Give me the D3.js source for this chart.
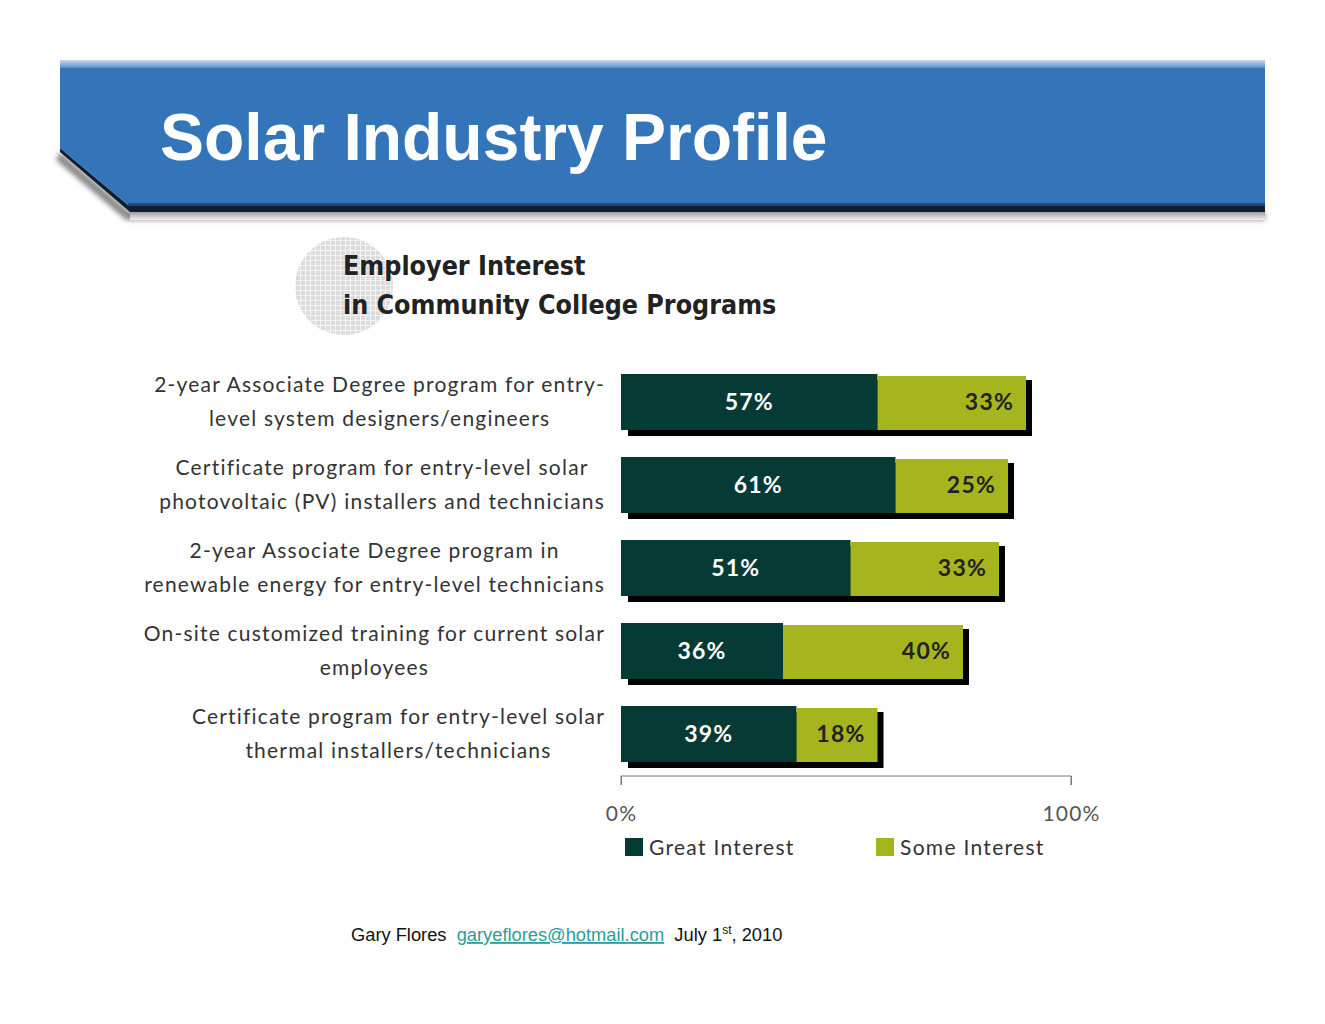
<!DOCTYPE html>
<html>
<head>
<meta charset="utf-8">
<script src="https://cdn.jsdelivr.net/npm/d3@7"></script>
<style>
  body { margin: 0; background: #fff; }
  svg { display: block; }
</style>
</head>
<body>
<div id="chart"></div>
<script>
// chart data
var programs = [
  ["2-year Associate Degree program for entry-", "level system designers/engineers"],
  ["Certificate program for entry-level solar", "photovoltaic (PV) installers and technicians"],
  ["2-year Associate Degree program in", "renewable energy for entry-level technicians"],
  ["On-site customized training for current solar", "employees"],
  ["Certificate program for entry-level solar", "thermal installers/technicians"]
];
var greatInterest = [57, 61, 51, 36, 39];
var someInterest = [33, 25, 33, 40, 18];
var seriesNames = ["Great Interest", "Some Interest"];
var axisTicks = [0, 100];

var width = 1325, height = 1024;
var darkGreen = "#053a35", lime = "#a6b51d";
var labelFont = "Lato, 'Open Sans', sans-serif";

var svg = d3.select("#chart").append("svg")
    .attr("width", width)
    .attr("height", height);

var defs = svg.append("defs");

// header band
var topGrad = defs.append("linearGradient").attr("id", "topGrad")
    .attr("x1", 0).attr("y1", 0).attr("x2", 0).attr("y2", 1);
topGrad.append("stop").attr("offset", "0%").attr("stop-color", "#c5d8ec");
topGrad.append("stop").attr("offset", "100%").attr("stop-color", "#5b8fc8");

var shadowGrad = defs.append("linearGradient").attr("id", "shadowGrad")
    .attr("x1", 0).attr("y1", 0).attr("x2", 0).attr("y2", 1);
shadowGrad.append("stop").attr("offset", "0%").attr("stop-color", "#8a8a8a");
shadowGrad.append("stop").attr("offset", "100%").attr("stop-color", "#f2f2f2");

defs.append("filter").attr("id", "blur")
  .append("feGaussianBlur").attr("stdDeviation", 2.5);

var header = svg.append("g");
// shadow
header.append("path")
    .attr("d", "M60,152 L130,212 L1265,212 L1265,220 L126,220 L56,160 Z")
    .attr("fill", "#888")
    .attr("filter", "url(#blur)");
header.append("rect")
    .attr("x", 130).attr("y", 210).attr("width", 1135).attr("height", 10)
    .attr("fill", "url(#shadowGrad)");
// dark bottom edge
header.append("path")
    .attr("d", "M60,148 L128,205 L1265,205 L1265,212 L130,212 L60,152 Z")
    .attr("fill", "#0f1f33");
header.append("path")
    .attr("d", "M60,60 L1265,60 L1265,205 L128,205 L60,148 Z")
    .attr("fill", "#3474b8");
header.append("rect")
    .attr("x", 60).attr("y", 60).attr("width", 1205).attr("height", 8)
    .attr("fill", "url(#topGrad)");
header.append("rect")
    .attr("x", 128).attr("y", 203).attr("width", 1137).attr("height", 3)
    .attr("fill", "#21497a");

header.append("text")
    .attr("x", 160).attr("y", 160)
    .attr("fill", "#fff")
    .attr("font-family", "'Liberation Sans', Arial, sans-serif")
    .attr("font-weight", "bold")
    .attr("font-size", 66)
    .text("Solar Industry Profile");

// grid circle behind subtitle
var pat = defs.append("pattern").attr("id", "grid")
    .attr("patternUnits", "userSpaceOnUse")
    .attr("width", 5).attr("height", 5);
pat.append("rect").attr("width", 5).attr("height", 5).attr("fill", "#dcdcdc");
pat.append("path").attr("d", "M0,0.5 H5 M0.5,0 V5")
    .attr("stroke", "#f4f4f4").attr("stroke-width", 1);

svg.append("circle")
    .attr("cx", 344).attr("cy", 286).attr("r", 49)
    .attr("fill", "url(#grid)");

var sub = svg.append("text")
    .attr("font-family", "'DejaVu Sans Condensed', 'DejaVu Sans', sans-serif")
    .attr("font-weight", "bold")
    .attr("font-size", 26.6)
    .attr("fill", "#222");
sub.append("tspan").attr("x", 343).attr("y", 275).text("Employer Interest");
sub.append("tspan").attr("x", 343).attr("y", 314).text("in Community College Programs");

// scales
var x = d3.scaleLinear().domain([0, 100]).range([621, 1071]);
var y = d3.scaleBand()
    .domain(d3.range(programs.length))
    .range([374, 762])
    .paddingInner(0.325)
    .paddingOuter(0);

var rows = programs.map(function(p, i) {
  return {label: p, great: greatInterest[i], some: someInterest[i], i: i};
});

var bars = svg.append("g").selectAll("g")
    .data(rows)
    .enter().append("g");

// drop shadow
bars.append("rect")
    .attr("x", x(0) + 7)
    .attr("y", function(d) { return y(d.i) + 6; })
    .attr("width", function(d) { return x(d.great + d.some) - x(0) - 1; })
    .attr("height", y.bandwidth())
    .attr("fill", "#000");

bars.append("rect")
    .attr("x", x(0))
    .attr("y", function(d) { return y(d.i); })
    .attr("width", function(d) { return x(d.great) - x(0); })
    .attr("height", y.bandwidth())
    .attr("fill", darkGreen);

bars.append("rect")
    .attr("x", function(d) { return x(d.great); })
    .attr("y", function(d) { return y(d.i) + 2; })
    .attr("width", function(d) { return x(d.great + d.some) - x(d.great); })
    .attr("height", y.bandwidth() - 2)
    .attr("fill", lime);

bars.append("text")
    .attr("x", function(d) { return (x(0) + x(d.great)) / 2; })
    .attr("y", function(d) { return y(d.i) + y.bandwidth() / 2 + 8; })
    .attr("text-anchor", "middle")
    .attr("fill", "#fff")
    .attr("font-family", labelFont)
    .attr("font-weight", "bold")
    .attr("font-size", 23)
    .attr("letter-spacing", 1.2)
    .text(function(d) { return d.great + "%"; });

bars.append("text")
    .attr("x", function(d) { return x(d.great + d.some) - 12; })
    .attr("y", function(d) { return y(d.i) + y.bandwidth() / 2 + 8; })
    .attr("text-anchor", "end")
    .attr("fill", "#222")
    .attr("font-family", labelFont)
    .attr("font-weight", "bold")
    .attr("font-size", 23)
    .attr("letter-spacing", 1.2)
    .text(function(d) { return d.some + "%"; });

// category labels, centred as a block whose widest line ends at 605
var labels = bars.append("text")
    .attr("font-family", labelFont)
    .attr("font-size", 21)
    .attr("letter-spacing", 1.2)
    .attr("fill", "#333")
    .attr("text-anchor", "middle");

labels.each(function(d) {
  var t = d3.select(this);
  var cy = y(d.i) + y.bandwidth() / 2;
  d.label.forEach(function(line, k) {
    t.append("tspan")
      .attr("x", 0)
      .attr("y", cy - 17 + k * 34 + 7)
      .text(line);
  });
  var maxW = 0;
  t.selectAll("tspan").each(function() {
    maxW = Math.max(maxW, this.getComputedTextLength());
  });
  t.selectAll("tspan").attr("x", 605 - maxW / 2);
});

// axis
var axis = svg.append("g")
    .attr("transform", "translate(0,776)")
    .call(d3.axisBottom(x).tickValues(axisTicks).tickSize(9).tickFormat(function(d) { return d + "%"; }));
axis.select(".domain").attr("stroke", "#777").attr("d", "M" + x(0) + ",9V0H" + x(100) + "V9");
axis.selectAll(".tick line").attr("stroke", "#777");
axis.selectAll(".tick text")
    .attr("y", 30)
    .attr("fill", "#555")
    .attr("font-family", labelFont)
    .attr("font-size", 21)
    .attr("letter-spacing", 1.2);

// legend
var legendX = [625, 876];
var legend = svg.append("g").selectAll("g")
    .data(seriesNames)
    .enter().append("g")
    .attr("transform", function(d, i) { return "translate(" + legendX[i] + ",838)"; });
legend.append("rect")
    .attr("width", 18).attr("height", 18)
    .attr("fill", function(d, i) { return i === 0 ? darkGreen : lime; });
legend.append("text")
    .attr("x", 24).attr("y", 17)
    .attr("fill", "#333")
    .attr("font-family", labelFont)
    .attr("font-size", 21)
    .attr("letter-spacing", 1.3)
    .text(function(d) { return d; });

// footer
var foot = svg.append("text")
    .attr("x", 351).attr("y", 941)
    .attr("font-family", "'Liberation Sans', Arial, sans-serif")
    .attr("font-size", 18.3)
    .attr("fill", "#111")
    .style("white-space", "pre");
foot.append("tspan").text("Gary Flores  ");
foot.append("tspan").attr("fill", "#2a9d9a").attr("text-decoration", "underline").text("garyeflores@hotmail.com");
foot.append("tspan").text("  July 1");
foot.append("tspan").attr("font-size", 12).attr("dy", -7).text("st");
foot.append("tspan").attr("dy", 7).text(", 2010");
</script>
</body>
</html>
